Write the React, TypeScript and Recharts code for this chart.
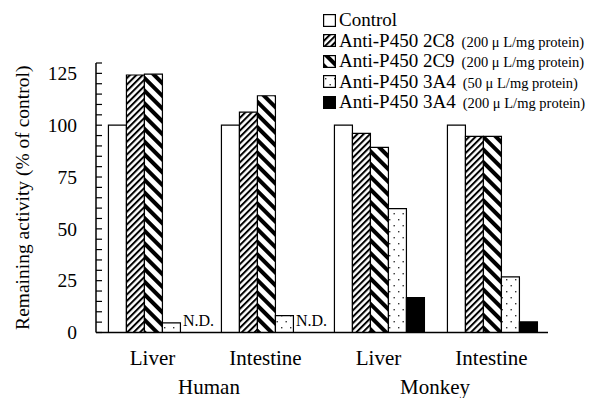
import { BarChart, Bar, XAxis, YAxis, LabelList } from 'recharts';

// values (% of control); 0 in anti3A4High = N.D.
const organs = ['Liver', 'Intestine', 'Liver', 'Intestine'];
const species = ['Human', 'Human', 'Monkey', 'Monkey'];
const control = [100, 100, 100, 100];
const anti2C8 = [124.2, 106.3, 96.1, 94.6];
const anti2C9 = [124.6, 114.2, 89.3, 94.6];
const anti3A4Low = [4.6, 8.1, 59.8, 26.8];
const anti3A4High = [0, 0, 16.8, 5.1];

const yTicks = [0, 5, 10, 15, 20, 25, 30, 35, 40, 45, 50, 55, 60, 65, 70, 75, 80, 85, 90, 95, 100, 105, 110, 115, 120, 125, 130];
const yLabels = [0, 25, 50, 75, 100, 125];

const series = [
  { key: 'control', name: 'Control', note: '', fill: '#ffffff' },
  { key: 'anti2C8', name: 'Anti-P450 2C8', note: '(200 \u03bc L/mg protein)', fill: 'url(#hatchFine)' },
  { key: 'anti2C9', name: 'Anti-P450 2C9', note: '(200 \u03bc L/mg protein)', fill: 'url(#hatchBold)' },
  { key: 'anti3A4Low', name: 'Anti-P450 3A4', note: '(50 \u03bc L/mg protein)', fill: 'url(#dots)' },
  { key: 'anti3A4High', name: 'Anti-P450 3A4', note: '(200 \u03bc L/mg protein)', fill: '#000000' },
];

const data = organs.map((organ, i) => ({
  organ,
  species: species[i],
  control: control[i],
  anti2C8: anti2C8[i],
  anti2C9: anti2C9[i],
  anti3A4Low: anti3A4Low[i],
  anti3A4High: anti3A4High[i],
}));

const FONT = '"Liberation Serif", "Times New Roman", serif';

const YTick = (props: any) => {
  const { x, y, payload } = props;
  return (
    <g>
      <line x1={x} x2={x + 6} y1={y} y2={y} stroke="#000" strokeWidth={1.2} />
      {yLabels.includes(payload.value) && (
        <text x={x - 19} y={y} dy="0.35em" textAnchor="end" fontFamily={FONT} fontSize={19.5} fill="#000">
          {payload.value}
        </text>
      )}
    </g>
  );
};

const OrganTick = (props: any) => {
  const { x, y, payload } = props;
  return (
    <text x={x} y={y + 32} textAnchor="middle" fontFamily={FONT} fontSize={21} fill="#000">
      {payload.value}
    </text>
  );
};

const SpeciesTick = (props: any) => {
  const { x, y, payload } = props;
  return (
    <text x={x} y={y + 21.5} textAnchor="middle" fontFamily={FONT} fontSize={21} fill="#000">
      {payload.value}
    </text>
  );
};

// "N.D." goes in the empty 200 uL slot, right of the 50 uL bar
const NotDetected = (props: any) => {
  const vb = props.viewBox || {};
  const x = props.x ?? vb.x;
  const y = props.y ?? vb.y;
  const width = props.width ?? vb.width;
  const height = props.height ?? vb.height;
  if (anti3A4High[props.index] !== 0) return null;
  return (
    <text x={x + width + 2.5} y={y + height - 6.5} fontFamily={FONT} fontSize={16} fill="#000">
      N.D.
    </text>
  );
};

function ChartLegend() {
  return (
    <div style={{ position: 'absolute', left: 323, top: 10, fontFamily: FONT, color: '#000' }}>
      {series.map((s) => (
        <div key={s.key + s.note} style={{ height: 20.5, display: 'flex', alignItems: 'center', whiteSpace: 'nowrap' }}>
          <svg width={13} height={13} style={{ flex: 'none' }}>
            <rect x={0.6} y={0.6} width={11.8} height={11.8} fill={s.fill} stroke="#000" strokeWidth={1.2} />
          </svg>
          <span style={{ marginLeft: 3, fontSize: 19, lineHeight: '20px' }}>{s.name}</span>
          {s.note && <span style={{ marginLeft: 7, fontSize: 14.5, lineHeight: '20px', position: 'relative', top: 1 }}>{s.note}</span>}
        </div>
      ))}
    </div>
  );
}

export default function App() {
  return (
    <div style={{ position: 'absolute', left: 0, top: 0, width: 591, height: 398, background: '#fff' }}>
      <svg width={0} height={0} style={{ position: 'absolute' }}>
        <defs>
          <pattern id="hatchFine" patternUnits="userSpaceOnUse" width={4.5} height={4.5} patternTransform="rotate(45)">
            <rect width={4.5} height={4.5} fill="#fff" />
            <rect width={2} height={4.5} fill="#000" />
          </pattern>
          <pattern id="hatchBold" patternUnits="userSpaceOnUse" width={9} height={9} patternTransform="rotate(-45)">
            <rect width={9} height={9} fill="#fff" />
            <rect width={4} height={9} fill="#000" />
          </pattern>
          <pattern id="dots" patternUnits="userSpaceOnUse" width={9} height={12}>
            <rect width={9} height={12} fill="#fff" />
            <rect x={2} y={3} width={1.4} height={1.4} fill="#333" />
            <rect x={6.5} y={9} width={1.4} height={1.4} fill="#333" />
          </pattern>
        </defs>
      </svg>
      <BarChart
        width={591}
        height={398}
        data={data}
        margin={{ top: 63, right: 43, bottom: 0.5, left: 0 }}
        barGap={0}
        barCategoryGap="11%"
      >
        <XAxis
          dataKey="organ"
          height={40}
          axisLine={{ stroke: '#000', strokeWidth: 1.5 }}
          tickLine={false}
          tickSize={0}
          tickMargin={0}
          tick={<OrganTick />}
          interval={0}
        />
        <XAxis
          xAxisId="species"
          dataKey="species"
          allowDuplicatedCategory={false}
          height={25}
          axisLine={false}
          tickLine={false}
          tickSize={0}
          tickMargin={0}
          tick={<SpeciesTick />}
          interval={0}
        />
        <YAxis
          width={96}
          domain={[0, 130]}
          ticks={yTicks}
          interval={0}
          axisLine={{ stroke: '#000', strokeWidth: 1.5 }}
          tickLine={false}
          tickSize={0}
          tickMargin={0}
          tick={<YTick />}
          label={{
            value: 'Remaining activity (% of control)',
            angle: -90,
            position: 'insideLeft',
            offset: 22,
            style: { textAnchor: 'middle', fontFamily: FONT, fontSize: 19.5, fill: '#000' },
          }}
        />
        {series.map((s) => (
          <Bar
            key={s.key}
            dataKey={s.key}
            name={s.name}
            fill={s.fill}
            stroke="#000"
            strokeWidth={1.2}
            isAnimationActive={false}
          >
            {s.key === 'anti3A4Low' && <LabelList dataKey={s.key} content={<NotDetected />} />}
          </Bar>
        ))}
      </BarChart>
      <ChartLegend />
    </div>
  );
}
